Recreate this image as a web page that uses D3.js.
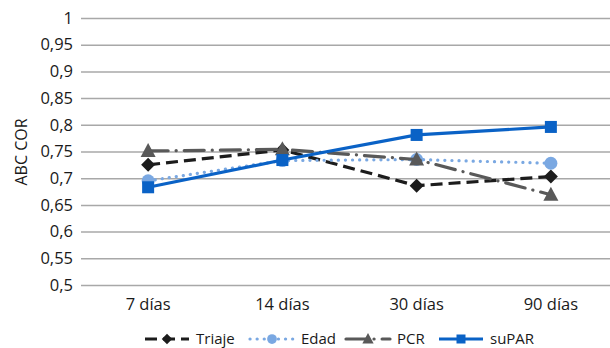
<!DOCTYPE html>
<html><head><meta charset="utf-8">
<script src="https://cdn.jsdelivr.net/npm/d3@7"></script>
<style>body{margin:0;background:#fff}svg{display:block}text{font-family:"Open Sans",sans-serif;fill:#1a1a1a}</style>
</head><body>
<svg id="c" width="610" height="348"></svg>
<script>
const categories = ["7 días","14 días","30 días","90 días"];
const triaje = [0.725,0.753,0.686,0.703];
const edad   = [0.695,0.733,0.735,0.728];
const pcr    = [0.751,0.754,0.735,0.669];
const supar  = [0.683,0.734,0.781,0.796];
const yTicks = [0.5,0.55,0.6,0.65,0.7,0.75,0.8,0.85,0.9,0.95,1];
const seriesNames = ["Triaje","Edad","PCR","suPAR"];

const series = [
  {name:seriesNames[0], values:triaje, color:"#1c1c1c", dash:"12,6", cap:"butt", marker:"diamond"},
  {name:seriesNames[1], values:edad, color:"#7aa8e2", dash:"0.1,7", cap:"round", marker:"circle"},
  {name:seriesNames[2], values:pcr, color:"#595959", dash:"20,8,0.1,8", cap:"round", marker:"triangle"},
  {name:seriesNames[3], values:supar, color:"#0a62c6", dash:null, cap:"butt", marker:"square"}
];

const svg = d3.select("#c");
const mLeft = 81, mRight = 618, mTop = 18, mBottom = 285;
const x = d3.scaleBand().domain(categories).range([mLeft,mRight]);
const y = d3.scaleLinear().domain([0.5,1]).range([mBottom,mTop]);

const yAxis = d3.axisLeft(y).tickValues(yTicks).tickSize(-(mRight-mLeft)).tickPadding(8)
  .tickFormat(d=> d3.format(".2~f")(d).replace(".",","));
const ga = svg.append("g").attr("transform",`translate(${mLeft},0)`).call(yAxis);
ga.select(".domain").remove();
ga.selectAll(".tick line").attr("stroke","#a8a8a8").attr("stroke-width",1.5);
ga.selectAll(".tick text").attr("font-size",16.5).attr("fill","#1a1a1a").attr("x",-8);

const xAxis = d3.axisBottom(x).tickSize(0).tickPadding(13);
const gx = svg.append("g").attr("transform",`translate(0,${mBottom})`).call(xAxis);
gx.select(".domain").remove();
gx.selectAll(".tick text").attr("font-size",16.5).attr("fill","#1a1a1a");

svg.append("text").attr("transform","translate(27,152) rotate(-90)")
  .attr("text-anchor","middle").attr("font-size",16).text("ABC COR");

const cx = d=> x(d)+x.bandwidth()/2;
const line = d3.line().x((d,i)=>cx(categories[i])).y(d=>y(d));

function drawMarker(g, type, px, py, color, k){
  k = k||1;
  if(type==="diamond"){
    g.append("path").attr("d",`M${px},${py-7*k}L${px+7*k},${py}L${px},${py+7*k}L${px-7*k},${py}Z`).attr("fill",color);
  } else if(type==="circle"){
    g.append("circle").attr("cx",px).attr("cy",py).attr("r",6.5*k).attr("fill",color);
  } else if(type==="triangle"){
    g.append("path").attr("d",`M${px},${py-8*k}L${px+7.5*k},${py+6*k}L${px-7.5*k},${py+6*k}Z`).attr("fill",color);
  } else {
    g.append("rect").attr("x",px-6*k).attr("y",py-6*k).attr("width",12*k).attr("height",12*k).attr("fill",color);
  }
}

series.forEach(s=>{
  const g = svg.append("g");
  const p = g.append("path").datum(s.values).attr("d",line).attr("fill","none")
    .attr("stroke",s.color).attr("stroke-width",3.2).attr("stroke-linecap",s.cap);
  if(s.dash) p.attr("stroke-dasharray",s.dash);
  s.values.forEach((v,i)=>drawMarker(g,s.marker,cx(categories[i]),y(v),s.color));
});

const legendX = [145,250,346,439];
const ly = 339;
series.forEach((s,i)=>{
  const g = svg.append("g");
  const x0 = legendX[i];
  const p = g.append("line").attr("x1",x0).attr("x2",x0+44).attr("y1",ly).attr("y2",ly)
    .attr("stroke",s.color).attr("stroke-width",3.2).attr("stroke-linecap",s.cap);
  if(s.dash) p.attr("stroke-dasharray",s.dash);
  drawMarker(g,s.marker,x0+22,ly,s.color,0.75);
  g.append("text").attr("x",x0+51).attr("y",ly+4.5).attr("font-size",15).text(s.name);
});
</script>
</body></html>
